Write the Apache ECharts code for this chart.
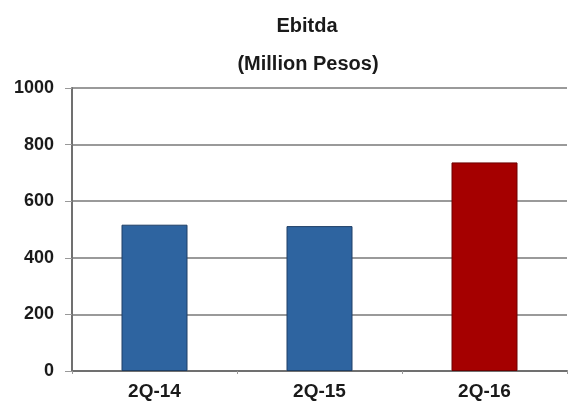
<!DOCTYPE html>
<html>
<head>
<meta charset="utf-8">
<script src="https://cdn.jsdelivr.net/npm/echarts@6/dist/echarts.min.js"></script>
<style>html,body{margin:0;padding:0;background:#fff}#c{width:568px;height:406px}</style>
</head>
<body>
<div id="c"></div>
<script>
const categories = ['2Q-14', '2Q-15', '2Q-16'];
const ebitdaValues = [517, 512, 737];
const barColors = ['#2E64A0', '#2E64A0', '#A50000'];
const barBorders = ['#1F3F66', '#1F3F66', '#6E0000'];
const yTicks = [0, 200, 400, 600, 800, 1000];
const titleText = 'Ebitda';
const subtitleText = '(Million Pesos)';

const chart = echarts.init(document.getElementById('c'));
const font = 'Arial, "Liberation Sans", sans-serif';
chart.setOption({
  animation: false,
  backgroundColor: '#fff',
  title: [
    { text: titleText, left: 302, top: 11, textAlign: 'center',
      textStyle: { fontFamily: font, fontSize: 20, fontWeight: 'bold', color: '#1a1a1a' } },
    { text: subtitleText, left: 303, top: 49, textAlign: 'center',
      textStyle: { fontFamily: font, fontSize: 20, fontWeight: 'bold', color: '#1a1a1a' } }
  ],
  grid: { left: 72, right: 1, top: 88, bottom: 35, containLabel: false },
  xAxis: {
    type: 'category',
    data: categories,
    axisLine: { lineStyle: { color: '#707070', width: 2 } },
    axisTick: { show: true, alignWithLabel: false, length: 3, lineStyle: { color: '#999' } },
    axisLabel: { fontFamily: font, fontSize: 19, fontWeight: 'bold', color: '#1a1a1a', margin: 11 }
  },
  yAxis: {
    type: 'value',
    min: yTicks[0],
    max: yTicks[yTicks.length - 1],
    interval: yTicks[1] - yTicks[0],
    axisLine: { show: true, lineStyle: { color: '#707070', width: 2 } },
    axisTick: { show: true, length: 7, lineStyle: { color: '#999' } },
    splitLine: { lineStyle: { color: '#9a9a9a', width: 2 } },
    axisLabel: { fontFamily: font, fontSize: 18, fontWeight: 'bold', color: '#1a1a1a', margin: 18,
      formatter: v => String(v) }
  },
  series: [{
    type: 'bar',
    barWidth: '40%',
    data: ebitdaValues.map((v, i) => ({
      value: v,
      itemStyle: { color: barColors[i], borderColor: barBorders[i], borderWidth: 1 }
    }))
  }]
});
</script>
</body>
</html>
